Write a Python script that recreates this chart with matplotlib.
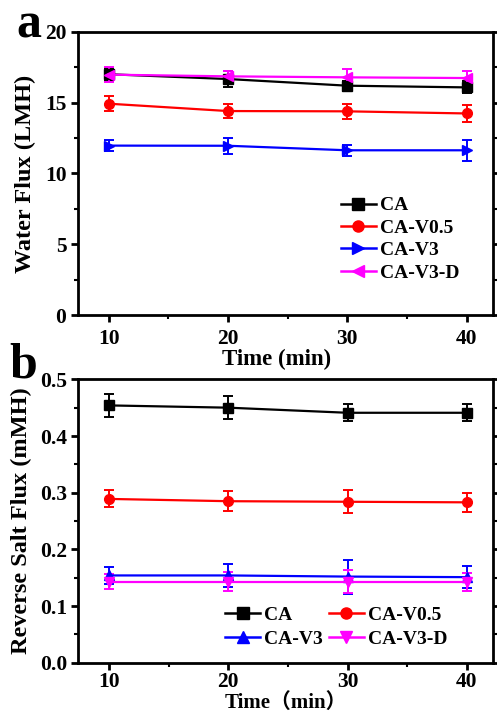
import matplotlib
matplotlib.use("Agg")
import matplotlib.pyplot as plt
from matplotlib.lines import Line2D
from matplotlib.ticker import MultipleLocator

plt.rcParams['font.family'] = ['Liberation Serif', 'Noto Sans CJK SC']
plt.rcParams['font.weight'] = 'bold'

time_min = [10, 20, 30, 40]

# Water flux (LMH)
wf_ca = [17.0, 16.66, 16.19, 16.07]
wf_ca_err = [0.45, 0.55, 0.36, 0.42]
wf_v05 = [14.92, 14.4, 14.38, 14.23]
wf_v05_err = [0.53, 0.47, 0.55, 0.61]
wf_v3 = [11.96, 11.95, 11.63, 11.63]
wf_v3_err = [0.41, 0.55, 0.38, 0.74]
wf_v3d = [16.97, 16.85, 16.78, 16.73]
wf_v3d_err = [0.55, 0.38, 0.59, 0.47]

# Reverse salt flux (mMH)
rs_ca = [0.454, 0.450, 0.441, 0.441]
rs_ca_err = [0.020, 0.020, 0.015, 0.015]
rs_v05 = [0.289, 0.285, 0.284, 0.283]
rs_v05_err = [0.015, 0.018, 0.020, 0.017]
rs_v3 = [0.154, 0.154, 0.152, 0.151]
rs_v3_err = [0.015, 0.020, 0.030, 0.019]
rs_v3d = [0.143, 0.143, 0.143, 0.143]
rs_v3d_err = [0.013, 0.017, 0.020, 0.016]

labels = ['CA', 'CA-V0.5', 'CA-V3', 'CA-V3-D']
colors = ['black', 'red', 'blue', 'magenta']

fig = plt.figure(figsize=(4.97, 7.16), dpi=100)
ax1 = fig.add_axes([0.156, 0.560, 0.836, 0.3957])
ax2 = fig.add_axes([0.157, 0.0744, 0.835, 0.3958])

MS = 7


def series(ax, y, e, color, marker):
    ax.errorbar(time_min, y, yerr=e, color=color, marker=marker, markersize=MS,
                lw=1.6, elinewidth=1.4, capsize=3.5, capthick=1.4)
    return Line2D([], [], color=color, marker=marker, markersize=MS + 1, lw=1.8)


h1 = [series(ax1, wf_ca, wf_ca_err, colors[0], 's'),
      series(ax1, wf_v05, wf_v05_err, colors[1], 'o'),
      series(ax1, wf_v3, wf_v3_err, colors[2], '>'),
      series(ax1, wf_v3d, wf_v3d_err, colors[3], '<')]

h2 = [series(ax2, rs_ca, rs_ca_err, colors[0], 's'),
      series(ax2, rs_v05, rs_v05_err, colors[1], 'o'),
      series(ax2, rs_v3, rs_v3_err, colors[2], '^'),
      series(ax2, rs_v3d, rs_v3d_err, colors[3], 'v')]

for ax in (ax1, ax2):
    ax.set_xlim(7.4, 42.2)
    ax.set_xticks(time_min)
    ax.xaxis.set_minor_locator(MultipleLocator(5))
    for s in ax.spines.values():
        s.set_linewidth(2)
    ax.tick_params(which='major', direction='out', length=5, width=2,
                   labelsize=15.5, right=True, pad=3)
    ax.tick_params(which='minor', direction='out', length=3, width=1.5, right=True)
    for t in ax.get_xticklabels() + ax.get_yticklabels():
        t.set_fontweight('bold')

ax1.tick_params(axis='x', which='major', pad=5)
ax2.tick_params(axis='x', which='major', pad=2)

ax1.set_ylim(0, 20)
ax1.set_yticks([0, 5, 10, 15, 20])
ax1.yaxis.set_minor_locator(MultipleLocator(2.5))
ax1.set_xlabel('Time (min)', fontsize=16.5, fontweight='bold')
ax1.xaxis.set_label_coords(0.48, -0.118)
ax1.set_ylabel('Water Flux (LMH)', fontsize=17.5, fontweight='bold')
ax1.yaxis.set_label_coords(-0.1, 0.5)

ax2.set_ylim(0, 0.5)
ax2.set_yticks([0.0, 0.1, 0.2, 0.3, 0.4, 0.5])
ax2.yaxis.set_minor_locator(MultipleLocator(0.05))
ax2.set_xlabel('Time（min）', fontsize=15, fontweight='bold')
ax2.xaxis.set_label_coords(0.5, -0.108)
ax2.set_ylabel('Reverse Salt Flux (mMH)', fontsize=17.5, fontweight='bold')
ax2.yaxis.set_label_coords(-0.111, 0.5)

leg_prop = {'size': 14, 'weight': 'bold'}
ax1.legend(h1, labels, loc='upper left', bbox_to_anchor=(0.615, 0.445), frameon=False,
           prop=leg_prop, handlelength=1.8, handletextpad=0.2,
           labelspacing=0.25, borderaxespad=0)
# two columns filled row by row
order = [0, 2, 1, 3]
ax2.legend([h2[i] for i in order], [labels[i] for i in order], loc='upper left',
           bbox_to_anchor=(0.336, 0.226), frameon=False, ncol=2, prop=leg_prop,
           handlelength=1.8, handletextpad=0.2, labelspacing=0.3,
           columnspacing=0.3, borderaxespad=0)

fig.text(16 / 497, 1 - 37 / 716, 'a', fontsize=36, fontweight='bold', va='baseline')
fig.text(9 / 497, 1 - 377 / 716, 'b', fontsize=36, fontweight='bold', va='baseline')

fig.savefig('out.png', dpi=100)
